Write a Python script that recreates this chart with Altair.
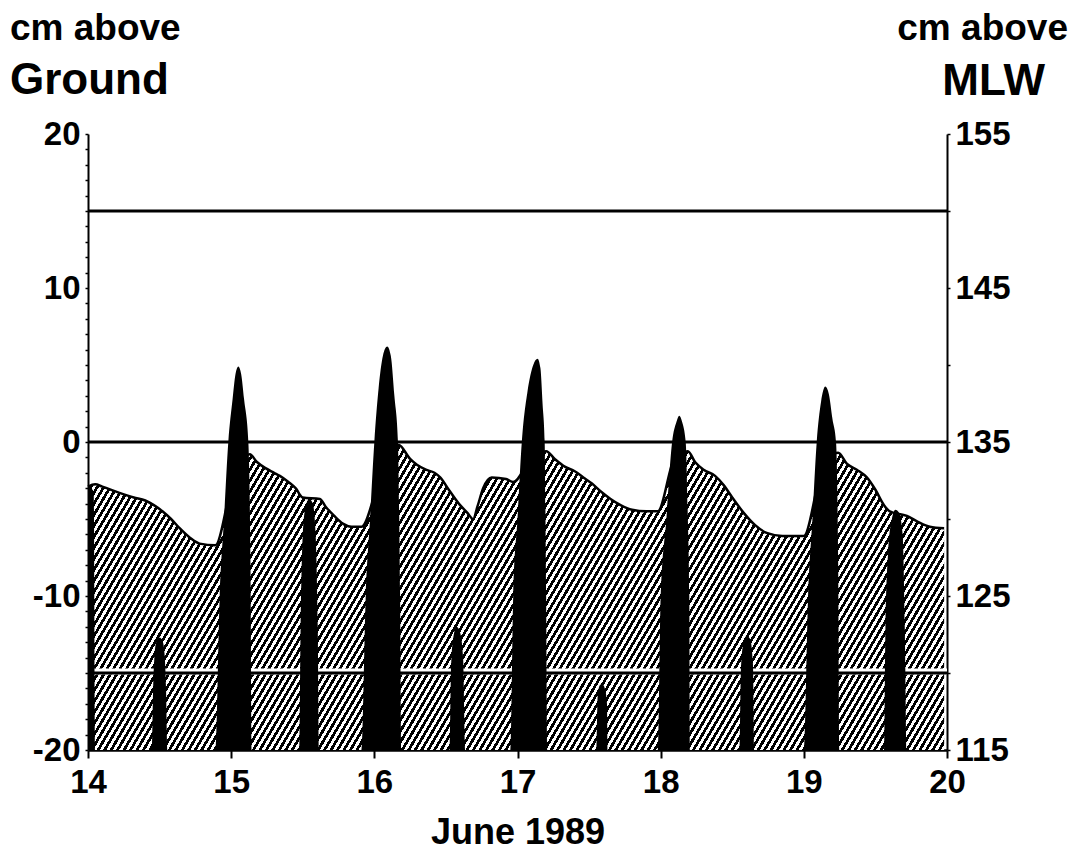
import altair as alt
import pandas as pd

# ---------------- data ----------------
# tide level (cm above ground) – black spikes
tide_t = [14.000, 14.040, 14.050,
          14.445, 14.455, 14.465, 14.480, 14.500, 14.520, 14.535, 14.545, 14.555,
          14.890, 14.920, 14.950, 14.980, 15.010, 15.030, 15.050, 15.070, 15.090, 15.120, 15.135, 15.145,
          15.475, 15.485, 15.500, 15.520, 15.545, 15.570, 15.590, 15.605, 15.615,
          15.910, 15.940, 15.970, 16.000, 16.030, 16.060, 16.090, 16.115, 16.140, 16.165, 16.180, 16.190,
          16.525, 16.535, 16.550, 16.575, 16.600, 16.620, 16.635,
          16.950, 16.970, 17.000, 17.030, 17.070, 17.110, 17.140, 17.160, 17.175, 17.190, 17.200, 17.210,
          17.550, 17.560, 17.575, 17.590, 17.610, 17.625, 17.630,
          17.980, 18.000, 18.040, 18.080, 18.110, 18.130, 18.150, 18.175, 18.190, 18.200, 18.205,
          18.550, 18.560, 18.575, 18.600, 18.625, 18.645, 18.655,
          19.000, 19.030, 19.060, 19.090, 19.120, 19.150, 19.175, 19.200, 19.225, 19.240, 19.250,
          19.560, 19.570, 19.590, 19.615, 19.640, 19.665, 19.690, 19.705, 19.715]
tide_cm = [-2.9, -3.2, -20.0,
           -20.0, -16.0, -13.8, -12.9, -12.7, -12.9, -13.8, -16.0, -20.0,
           -20.0, -10.0, -5.0, 0.0, 2.8, 4.4, 4.9, 4.4, 2.8, 0.0, -8.0, -20.0,
           -20.0, -12.0, -6.0, -4.2, -3.7, -4.0, -6.0, -12.0, -20.0,
           -20.0, -10.0, -5.0, 0.0, 3.5, 5.6, 6.2, 5.6, 3.0, 0.0, -10.0, -20.0,
           -20.0, -15.0, -12.8, -12.0, -12.4, -14.0, -20.0,
           -20.0, -10.0, -5.0, 0.0, 3.3, 5.0, 5.4, 4.8, 2.5, 0.0, -10.0, -20.0,
           -20.0, -16.5, -15.8, -15.7, -16.0, -17.0, -20.0,
           -20.0, -10.0, -5.0, 0.0, 1.3, 1.7, 1.3, 0.0, -5.0, -10.0, -20.0,
           -20.0, -15.0, -13.2, -12.6, -12.8, -14.5, -20.0,
           -20.0, -10.0, -5.0, 0.0, 2.6, 3.6, 3.1, 1.5, 0.0, -8.0, -20.0,
           -20.0, -12.0, -7.0, -5.0, -4.4, -4.6, -6.0, -12.0, -20.0]

# ground water level (cm above ground) – hatched area
gw_t = [14.00, 14.05, 14.10, 14.22, 14.32, 14.40, 14.46, 14.52, 14.58, 14.64, 14.71, 14.78, 14.89,
        15.00, 15.13, 15.18, 15.24, 15.30, 15.34, 15.40, 15.45, 15.50, 15.62, 15.66, 15.72, 15.78, 15.84, 15.91,
        16.05, 16.17, 16.25, 16.30, 16.36, 16.42, 16.46, 16.52, 16.59, 16.65, 16.69, 16.72, 16.76, 16.82, 16.92, 16.97,
        17.10, 17.20, 17.26, 17.33, 17.40, 17.46, 17.52, 17.58, 17.65, 17.72, 17.80, 17.90, 17.98,
        18.10, 18.19, 18.24, 18.30, 18.38, 18.44, 18.50, 18.58, 18.66, 18.74, 18.85, 19.00,
        19.12, 19.24, 19.30, 19.37, 19.44, 19.50, 19.56, 19.60, 19.72, 19.80, 19.88, 19.98]
gw_cm = [-2.9, -2.75, -2.9, -3.3, -3.6, -3.8, -4.1, -4.5, -5.0, -5.6, -6.2, -6.6, -6.7,
         -3.0, -0.8, -1.3, -1.7, -2.0, -2.2, -2.6, -3.0, -3.6, -3.7, -4.2, -4.8, -5.3, -5.5, -5.5,
         -2.0, -0.2, -1.1, -1.5, -1.8, -2.0, -2.3, -3.1, -4.0, -4.6, -5.0, -4.2, -3.0, -2.3, -2.4, -2.6,
         -1.0, -0.6, -1.1, -1.6, -1.9, -2.3, -2.7, -3.2, -3.7, -4.1, -4.4, -4.5, -4.5,
         -1.0, -0.6, -1.3, -1.8, -2.2, -2.8, -3.6, -4.6, -5.4, -5.9, -6.1, -6.1,
         -2.0, -0.7, -1.4, -1.8, -2.3, -3.1, -4.1, -4.5, -4.8, -5.2, -5.5, -5.6]

ref_levels = [15, 0, -15]
halo_levels = [-15]
day_ticks = [14, 15, 16, 17, 18, 19, 20]
ground_ticks = list(range(-20, 21))
ground_range = [-20, 20]
mlw_ticks = [115, 120, 125, 130, 135, 140, 145, 150, 155]
mlw_range = [115, 155]
day_range = [14, 20]

FONT = "Liberation Sans"
LABEL_SIZE = 33

tide_df = pd.DataFrame({"day": tide_t, "cm": tide_cm})
gw_df = pd.DataFrame({"day": gw_t, "cm": gw_cm})
ref_df = pd.DataFrame({"level": ref_levels})
halo_df = pd.DataFrame({"level": halo_levels})

x_enc = alt.X(
    "day:Q",
    scale=alt.Scale(domain=day_range, nice=False, zero=False),
    axis=alt.Axis(values=day_ticks, format="d", tickSize=8, tickWidth=2, domainWidth=2.5,
                  labelPadding=8, labelFontSize=LABEL_SIZE, labelFlush=False, titleFontSize=36,
                  titlePadding=16, grid=False),
    title="June 1989",
)
y_scale = alt.Scale(domain=ground_range, nice=False, zero=False)
y_axis = alt.Axis(values=ground_ticks, tickSize=3, tickWidth=1.5, domainWidth=2,
                  labelPadding=5, labelFontSize=LABEL_SIZE, grid=False, labelFlush=False,
                  labelExpr="datum.value % 10 == 0 ? '' + datum.value : ''")


def yq(field):
    return alt.Y(field, scale=y_scale, axis=y_axis, title=None)


# diagonal hatching built as a striped linear gradient
N_STRIPES = 160
stops = []
for i in range(N_STRIPES):
    a0 = i / N_STRIPES
    a1 = (i + 0.5) / N_STRIPES
    a2 = (i + 1) / N_STRIPES
    stops += [alt.GradientStop(color="black", offset=a0),
              alt.GradientStop(color="black", offset=a1),
              alt.GradientStop(color="white", offset=a1),
              alt.GradientStop(color="white", offset=a2)]
hatch_fill = alt.LinearGradient(gradient="linear", stops=stops, x1=0, y1=0, x2=1.1585, y2=0.2424)

hatch = alt.Chart(gw_df).mark_area(color=hatch_fill, interpolate="monotone").encode(
    x=x_enc, y=yq("cm:Q"), y2=alt.datum(-20)
)
gw_line = alt.Chart(gw_df).mark_line(color="black", strokeWidth=2.5, interpolate="monotone").encode(
    x=x_enc, y=yq("cm:Q")
)
halo = alt.Chart(halo_df).mark_rule(color="white", strokeWidth=6, yOffset=-1.5).encode(y=yq("level:Q"))
rules = alt.Chart(ref_df).mark_rule(color="black", strokeWidth=3).encode(y=yq("level:Q"))
tide = alt.Chart(tide_df).mark_area(color="black", interpolate="monotone").encode(
    x=x_enc, y=yq("cm:Q"), y2=alt.datum(-20)
)


def label(text, x, y, size, align):
    return alt.Chart(pd.DataFrame({"t": [text]})).mark_text(
        align=align, baseline="alphabetic", font=FONT, fontWeight="bold",
        fontSize=size, color="black"
    ).encode(x=alt.value(x), y=alt.value(y), text="t:N")


texts = [
    label("cm above", -78, -94, 37, "left"),
    label("Ground", -78, -40, 44, "left"),
    label("cm above", 980, -94, 37, "right"),
    label("MLW", 957, -39, 44, "right"),
]

left = alt.layer(hatch, gw_line, halo, rules, tide, *texts)

right = alt.Chart(pd.DataFrame({"mlw": mlw_range})).mark_point(opacity=0).encode(
    y=alt.Y("mlw:Q", scale=alt.Scale(domain=mlw_range, nice=False, zero=False),
            axis=alt.Axis(orient="right", values=mlw_ticks, tickSize=3, tickWidth=1.5,
                          domainWidth=2, labelPadding=5, labelFontSize=LABEL_SIZE, grid=False,
                          labelFlush=False,
                          labelExpr="(datum.value - 115) % 10 == 0 ? '' + datum.value : ''"),
            title=None)
)

chart = alt.layer(left, right).resolve_scale(y="independent").properties(
    width=859, height=616,
    autosize=alt.AutoSizeParams(type="none"),
    padding={"left": 80, "top": 126, "right": 122, "bottom": 102},
    background="white",
).configure_view(strokeOpacity=0).configure_axis(
    labelFont=FONT, labelFontWeight="bold", labelColor="black",
    titleFont=FONT, titleFontWeight="bold", titleColor="black",
    domainColor="black", tickColor="black",
)

chart.save("out.html", embed_options={"renderer": "svg", "actions": False})
